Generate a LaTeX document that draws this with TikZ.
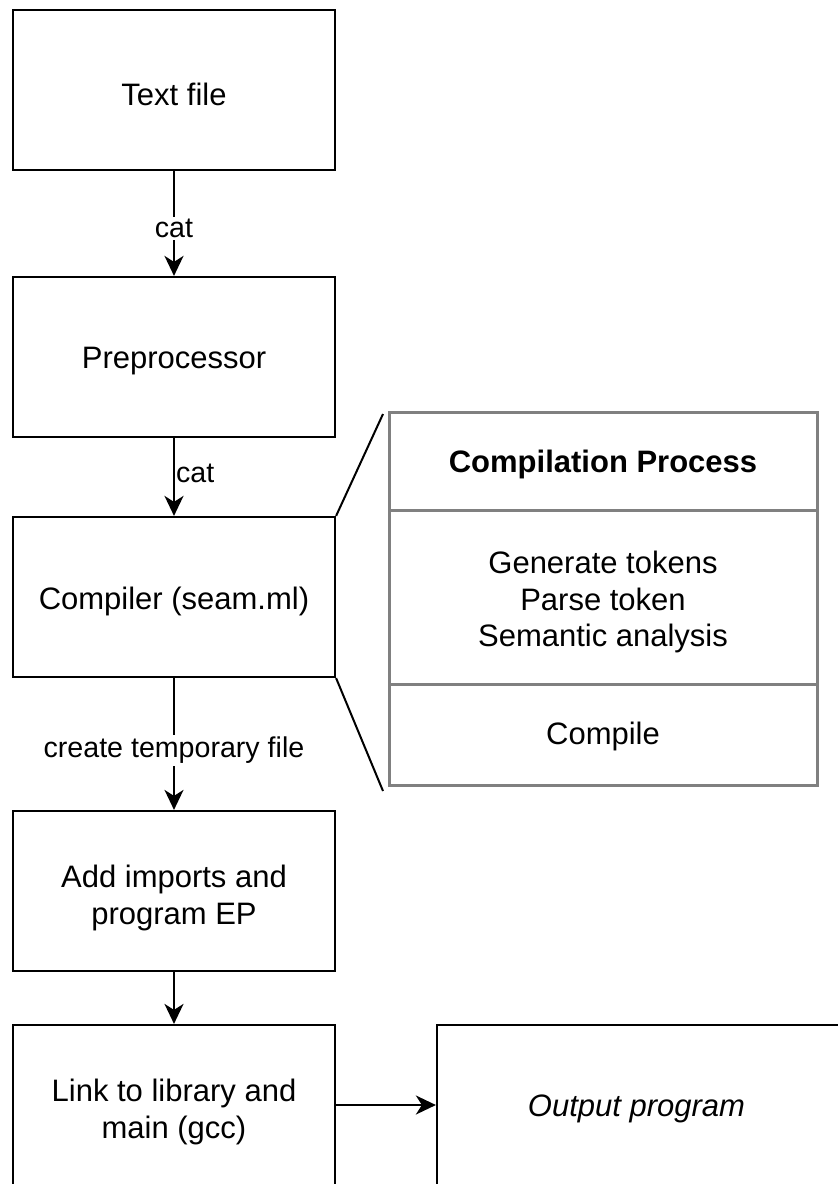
\documentclass[tikz,border=0pt]{standalone}
\usepackage{fontspec}
\setmainfont{Liberation Sans}
\usetikzlibrary{arrows.meta}
\begin{document}
\begin{tikzpicture}[x=1pt,y=-1pt,
  box/.style={draw, line width=2.2pt, minimum width=322pt, minimum height=160pt, inner sep=0pt},
  btext/.style={font=\fontsize{31}{37.5}\selectfont, align=center, inner sep=0pt},
  lbl/.style={font=\fontsize{28.6}{33}\selectfont, fill=white, inner sep=2pt},
  arr/.style={line width=2.2pt, -{Stealth[length=20pt,width=19pt,inset=6pt]}},
  tcell/.style={draw=black!50, line width=3pt, minimum width=428pt, inner sep=0pt},
  zoomline/.style={line width=2pt}]
\useasboundingbox (0,0) rectangle (838,1184);
\clip (0,0) rectangle (838,1184);
\fill[white] (0,0) rectangle (838,1184);

\node[box, label={[btext, yshift=-4pt]center:Text file}] (txt) at (174,90) {};
\node[box, label={[btext, yshift=-4pt]center:Preprocessor}] (pre) at (174,357) {};
\node[box, label={[btext, yshift=-4pt]center:Compiler (seam.ml)}] (comp) at (174,597) {};
\node[box, label={[btext, yshift=-7pt]center:Add imports and\\program EP}] (add) at (174,891) {};
\node[box, label={[btext, yshift=-7pt]center:Link to library and\\main (gcc)}] (link) at (174,1105) {};
\node[box, minimum width=403pt, label={[btext, yshift=-4pt, xshift=-2pt]center:\itshape Output program}] (out) at (638.5,1105) {};

\node[tcell, minimum height=98pt, label={[btext, yshift=-3pt]center:\bfseries Compilation Process}] (hdr) at (603,461) {};
\node[tcell, minimum height=174pt, label={[btext, font=\fontsize{31}{36.5}\selectfont, yshift=-5pt]center:Generate tokens\\Parse token\\Semantic analysis}] (mid) at (603,597) {};
\node[tcell, minimum height=101pt, label={[btext, yshift=-2pt]center:Compile}] (bot) at (603,734.5) {};

\coordinate (zt) at (383,414);
\coordinate (zb) at (383,791);
\draw[zoomline] (comp.north east) -- (zt);
\draw[zoomline] (comp.south east) -- (zb);

\draw[arr] (txt) -- node[lbl, pos=0.55] {cat} (pre);
\draw[arr] (pre) -- node[lbl, fill=none, anchor=west, inner sep=1pt, pos=0.45] {cat} (comp);
\draw[arr] (comp) -- node[lbl, pos=0.55] {create temporary file} (add);
\draw[arr] (add) -- (link);
\draw[arr] (link) -- (out);
\end{tikzpicture}
\end{document}
